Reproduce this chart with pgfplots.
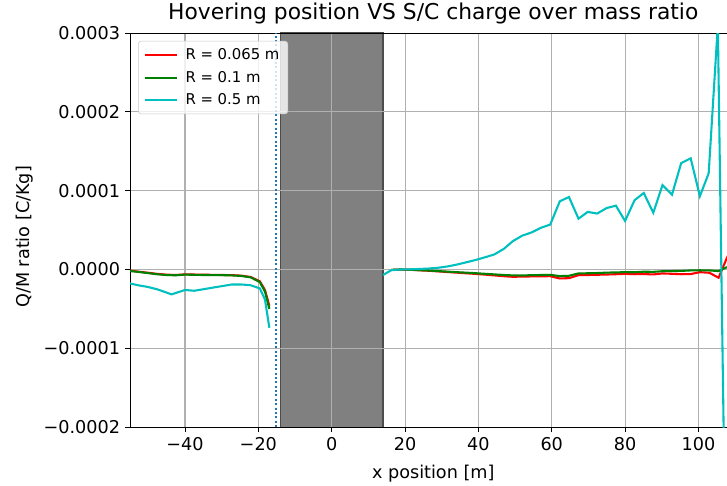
\documentclass[border=0pt]{standalone}
\usepackage{pgfplots}
\pgfplotsset{compat=1.18}
\usepackage{fontspec}
\setmainfont{DejaVu Sans}
\definecolor{mred}{HTML}{FF0000}
\definecolor{mgreen}{HTML}{008000}
\definecolor{mcyan}{HTML}{00BFBF}
\definecolor{mblue}{HTML}{1F77B4}
\definecolor{gridc}{HTML}{B0B0B0}
\definecolor{band}{HTML}{808080}
\begin{document}
\begin{tikzpicture}
\begin{axis}[
  name=ax,
  set layers,
  scale only axis,
  width=429.8pt, height=283.7pt,
  xmin=-55, xmax=107.8,
  ymin=-2, ymax=3,
  xtick={-40,-20,0,20,40,60,80,100},
  xticklabels={−40,−20,0,20,40,60,80,100},
  ytick={-2,-1,0,1,2,3},
  yticklabels={−0.0002,−0.0001,0.0000,0.0001,0.0002,0.0003},
  tick align=outside,
  major tick length=3.6pt,
  tick style={black, line width=0.6pt},
  xtick pos=bottom, ytick pos=left,
  grid=major,
  major grid style={gridc, line width=0.75pt},
  axis line style={black, line width=0.6pt},
  ticklabel style={font=\fontsize{12.7}{15}\selectfont},
  xlabel={x position [m]},
  ylabel={Q/M ratio [C/Kg]},
  label style={font=\fontsize{12.7}{15}\selectfont},
  xlabel style={at={(axis description cs:0.508,-0.1294)}, anchor=base},
  ylabel style={at={(axis description cs:-0.176,0.483)}, anchor=center},
  title={Hovering position VS S/C charge over mass ratio},
  title style={font=\fontsize{15.7}{18}\selectfont, at={(axis description cs:0.508,1)}, yshift=-3pt},
  legend cell align=left,
  legend image code/.code={\draw[#1] (0pt,0pt) -- (23pt,0pt); \path (26.5pt,0pt);},
  legend style={at={(axis description cs:0.0134,0.98)}, anchor=north west,
    font=\fontsize{10.7}{12.5}\selectfont, draw=gridc!70, fill=white, fill opacity=0.8, text opacity=1,
    rounded corners=2pt, row sep=3pt, inner xsep=4pt, inner ysep=3pt},
]
% grey band
\addplot[forget plot, on layer=axis background, fill=band, draw=black!70, line width=0.8pt]
  coordinates {(-14,-2) (-14,3) (14,3) (14,-2)} -- cycle;
% dotted line
\addplot[forget plot, mblue, line width=1.5pt, dash pattern=on 1.45pt off 1.7pt]
  coordinates {(-15.3,-2) (-15.3,3)};
% R = 0.065 m
\addplot[mred, line width=1.5pt] coordinates {
(-55,-0.015)(-52.8,-0.027)(-50.3,-0.04)(-47.7,-0.055)(-45.2,-0.065)(-42.6,-0.07)(-40,-0.062)(-37.5,-0.064)(-34.9,-0.066)(-32.4,-0.068)(-29.8,-0.07)(-27.2,-0.072)(-24.7,-0.078)(-22.1,-0.095)(-19.6,-0.15)(-18.2,-0.26)(-17,-0.46)
};
\addlegendentry{R = 0.065 m}
% R = 0.1 m
\addplot[mgreen, line width=1.5pt] coordinates {
(-55,-0.02)(-52.8,-0.03)(-50.3,-0.045)(-47.7,-0.06)(-45.2,-0.07)(-42.6,-0.074)(-40,-0.065)(-37.5,-0.068)(-34.9,-0.07)(-32.4,-0.071)(-29.8,-0.072)(-27.2,-0.075)(-24.7,-0.082)(-22.1,-0.1)(-19.6,-0.16)(-18.2,-0.28)(-17,-0.5)
};
\addlegendentry{R = 0.1 m}
% R = 0.5 m
\addplot[mcyan, line width=1.5pt] coordinates {
(-55,-0.177)(-52.8,-0.2)(-50.3,-0.22)(-47.7,-0.25)(-45.2,-0.29)(-43.7,-0.316)(-40,-0.26)(-37.5,-0.27)(-34.9,-0.25)(-32.4,-0.23)(-29.8,-0.21)(-27.2,-0.19)(-24.7,-0.19)(-22.1,-0.2)(-19.6,-0.24)(-18.2,-0.38)(-17,-0.74)
};
\addlegendentry{R = 0.5 m}
% right segments
\addplot[forget plot, mred, line width=1.5pt] coordinates {
(16.2,-0.005)(18.7,0)(21.3,-0.004)(23.8,-0.01)(26.4,-0.016)(29,-0.024)(31.5,-0.032)(34.1,-0.04)(36.6,-0.048)(39.2,-0.056)(41.8,-0.065)(44.3,-0.075)(46.9,-0.085)(49.4,-0.093)(52,-0.09)(54.5,-0.088)(57.1,-0.086)(59.6,-0.085)(62.2,-0.114)(64.7,-0.11)(67.3,-0.072)(69.8,-0.07)(72.4,-0.067)(75,-0.064)(77.5,-0.06)(80,-0.055)(82.6,-0.06)(85.1,-0.058)(87.7,-0.063)(90.2,-0.05)(92.8,-0.055)(95.3,-0.06)(97.9,-0.058)(100.4,-0.034)(103,-0.042)(105.5,-0.105)(107.8,0.15)(110.4,0.4)
};
\addplot[forget plot, mgreen, line width=1.5pt] coordinates {
(16.2,-0.005)(18.7,0)(21.3,-0.003)(23.8,-0.008)(26.4,-0.013)(29,-0.02)(31.5,-0.027)(34.1,-0.034)(36.6,-0.04)(39.2,-0.047)(41.8,-0.055)(44.3,-0.062)(46.9,-0.07)(49.4,-0.075)(52,-0.076)(54.5,-0.072)(57.1,-0.07)(59.6,-0.068)(62.2,-0.084)(64.7,-0.08)(67.3,-0.05)(69.8,-0.048)(72.4,-0.045)(75,-0.04)(77.5,-0.037)(80,-0.034)(82.6,-0.035)(85.1,-0.028)(87.7,-0.03)(90.2,-0.022)(92.8,-0.02)(95.3,-0.018)(97.9,-0.012)(100.4,-0.01)(103,-0.012)(105.5,-0.02)(107.8,0.03)
};
\addplot[forget plot, mcyan, line width=1.5pt] coordinates {
(14,-0.07)(16.2,-0.01)(18.7,0)(21.3,0.002)(23.8,0.006)(26.4,0.012)(29,0.022)(31.5,0.038)(34.1,0.062)(36.6,0.09)(39.2,0.12)(41.8,0.155)(44.3,0.19)(46.9,0.26)(49.4,0.36)(52,0.43)(54.5,0.47)(57.1,0.53)(59.6,0.57)(62.2,0.865)(64.7,0.92)(67.3,0.645)(69.8,0.73)(72.4,0.71)(75,0.78)(77.5,0.81)(80,0.616)(82.6,0.88)(85.1,0.97)(87.7,0.72)(90.2,1.07)(92.8,0.95)(95.3,1.35)(97.9,1.41)(100.4,0.93)(102.8,1.22)(105.3,3.1)(107.8,-5.0)
};
\end{axis}
\pgfresetboundingbox
\path[use as bounding box] ([xshift=-93.6pt,yshift=-41.8pt]ax.south west) rectangle ([yshift=23.8pt]ax.north east);
\end{tikzpicture}
\end{document}
